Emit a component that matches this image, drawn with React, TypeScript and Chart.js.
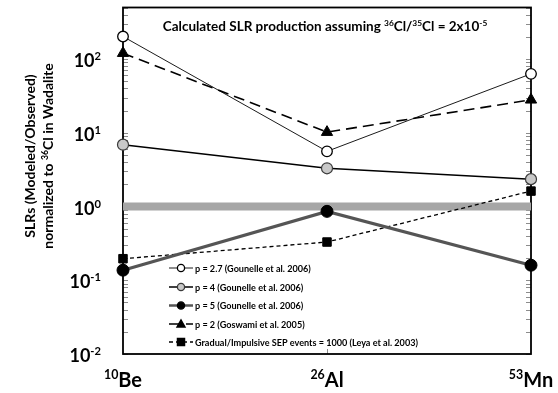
import React, { useEffect, useRef } from "react";
import { Chart, registerables } from "chart.js";
Chart.register(...registerables);

// ---- data ----
const categories = ["10Be", "26Al", "53Mn"];
const massNumbers = ["10", "26", "53"];
const elementSymbols = ["Be", "Al", "Mn"];
const p27 = [202, 5.6, 63];
const p4 = [6.9, 3.3, 2.35];
const p5 = [0.137, 0.86, 0.16];
const p2 = [120, 10.2, 28];
const sepEvents = [0.196, 0.33, 1.62];
const referenceLine = [1, 1, 1];
const yTickExponents = [-2, -1, 0, 1, 2];
const yMin = 0.01;
const yMax = 500;
const seriesLabels = [
  "p = 2.7 (Gounelle et al. 2006)",
  "p = 4 (Gounelle et al. 2006)",
  "p = 5 (Gounelle et al. 2006)",
  "p = 2 (Goswami et al. 2005)",
  "Gradual/Impulsive SEP events = 1000 (Leya et al. 2003)",
];

const FONT = "Lato, 'DejaVu Sans', sans-serif";

type Seg = { t: string; sup?: boolean };

function setFont(ctx: CanvasRenderingContext2D, size: number) {
  ctx.font = `bold ${size}px ${FONT}`;
}
function segWidth(ctx: CanvasRenderingContext2D, segs: Seg[], size: number) {
  let w = 0;
  for (const s of segs) {
    setFont(ctx, s.sup ? size * 0.62 : size);
    w += ctx.measureText(s.t).width;
  }
  return w;
}
function drawRich(
  ctx: CanvasRenderingContext2D,
  segs: Seg[],
  x: number,
  y: number,
  size: number,
  align: "left" | "center" | "right"
) {
  const w = segWidth(ctx, segs, size);
  let cx = align === "left" ? x : align === "center" ? x - w / 2 : x - w;
  ctx.textAlign = "left";
  ctx.textBaseline = "alphabetic";
  for (const s of segs) {
    const sz = s.sup ? size * 0.62 : size;
    setFont(ctx, sz);
    ctx.fillText(s.t, cx, s.sup ? y - size * 0.38 : y);
    cx += ctx.measureText(s.t).width;
  }
}

const decorPlugin = {
  id: "decor",
  beforeDatasetsDraw(chart: any) {
    const { ctx, chartArea: a, scales } = chart;
    const ys = scales.y;
    const xs = scales.x;
    ctx.save();
    ctx.strokeStyle = "#8c8c8c";
    ctx.lineWidth = 1;
    ctx.beginPath();
    for (const e of yTickExponents) {
      for (let m = 1; m <= 9; m++) {
        const v = m * Math.pow(10, e);
        if (v > yMax) continue;
        const py = Math.round(ys.getPixelForValue(v)) + 0.5;
        const len = 5;
        ctx.moveTo(a.left, py);
        ctx.lineTo(a.left + len, py);
        ctx.moveTo(a.right - len, py);
        ctx.lineTo(a.right, py);
      }
    }
    const mx = Math.round(xs.getPixelForValue(1)) + 0.5;
    ctx.moveTo(mx, a.bottom);
    ctx.lineTo(mx, a.bottom - 5);
    ctx.stroke();
    ctx.strokeStyle = "#000";
    ctx.lineWidth = 1.8;
    ctx.strokeRect(a.left, a.top, a.right - a.left, a.bottom - a.top);
    ctx.restore();
  },
  afterDraw(chart: any) {
    const { ctx, chartArea: a, scales } = chart;
    const ys = scales.y;
    const xs = scales.x;
    ctx.save();
    ctx.fillStyle = "#000";
    // x labels
    categories.forEach((_, i) => {
      const px = xs.getPixelForValue(i);
      drawRich(ctx, [{ t: massNumbers[i], sup: true }, { t: elementSymbols[i] }], px, 387, 20, "center");
    });
    // y labels
    for (const e of yTickExponents) {
      const py = ys.getPixelForValue(Math.pow(10, e));
      const ex = e < 0 ? "-" + Math.abs(e) : String(e);
      drawRich(ctx, [{ t: "10" }, { t: ex, sup: true }], 101, py + 8, 18, "right");
    }
    // title
    drawRich(
      ctx,
      [
        { t: "Calculated SLR production assuming " },
        { t: "36", sup: true },
        { t: "Cl/" },
        { t: "35", sup: true },
        { t: "Cl = 2x10" },
        { t: "-5", sup: true },
      ],
      (a.left + a.right) / 2 - 2,
      31,
      13.5,
      "center"
    );
    // y axis title
    const cy = 156;
    ctx.save();
    ctx.translate(35, cy);
    ctx.rotate(-Math.PI / 2);
    drawRich(ctx, [{ t: "SLRs (Modeled/Observed)" }], 0, 0, 14, "center");
    ctx.restore();
    ctx.save();
    ctx.translate(53, cy);
    ctx.rotate(-Math.PI / 2);
    drawRich(
      ctx,
      [{ t: "normalized to " }, { t: "36", sup: true }, { t: "Cl in Wadalite" }],
      0,
      0,
      14,
      "center"
    );
    ctx.restore();
    // legend
    const legendYs = [268, 287, 305.5, 324, 342];
    const ds = chart.data.datasets;
    for (let i = 0; i < seriesLabels.length; i++) {
      const d = ds[i];
      const ly = legendYs[i];
      ctx.save();
      ctx.strokeStyle = d.borderColor;
      ctx.lineWidth = Math.min(d.borderWidth, 2.5);
      ctx.setLineDash(d.borderDash || []);
      ctx.beginPath();
      ctx.moveTo(169, ly);
      ctx.lineTo(193, ly);
      ctx.stroke();
      ctx.setLineDash([]);
      ctx.fillStyle = d.pointBackgroundColor;
      ctx.strokeStyle = d.pointBorderColor;
      ctx.lineWidth = 1.3;
      const r = 3.6;
      const cx = 181;
      ctx.beginPath();
      if (d.pointStyle === "circle") {
        ctx.arc(cx, ly, r, 0, Math.PI * 2);
      } else if (d.pointStyle === "triangle") {
        ctx.moveTo(cx, ly - r - 0.5);
        ctx.lineTo(cx + r + 0.5, ly + r - 0.5);
        ctx.lineTo(cx - r - 0.5, ly + r - 0.5);
        ctx.closePath();
      } else {
        ctx.rect(cx - r, ly - r, 2 * r, 2 * r);
      }
      ctx.fill();
      ctx.stroke();
      ctx.restore();
      ctx.fillStyle = "#000";
      drawRich(ctx, [{ t: seriesLabels[i] }], 195, ly + 3.5, 9.1, "left");
    }
    ctx.restore();
  },
};

export default function App() {
  const ref = useRef<HTMLCanvasElement | null>(null);
  useEffect(() => {
    if (!ref.current) return;
    const chart = new Chart(ref.current, {
      type: "line",
      data: {
        labels: categories,
        datasets: [
          {
            label: seriesLabels[0],
            data: p27,
            borderColor: "#000",
            borderWidth: 0.9,
            pointStyle: "circle",
            pointRadius: 5.3,
            pointBackgroundColor: "#fff",
            pointBorderColor: "#000",
            pointBorderWidth: 1.3,
            clip: false,
            order: 1,
          } as any,
          {
            label: seriesLabels[1],
            data: p4,
            borderColor: "#000",
            borderWidth: 1.5,
            pointStyle: "circle",
            pointRadius: 5.5,
            pointBackgroundColor: "#c8c8c8",
            pointBorderColor: "#3a3a3a",
            pointBorderWidth: 1.2,
            clip: false,
            order: 2,
          },
          {
            label: seriesLabels[2],
            data: p5,
            borderColor: "#555555",
            borderWidth: 3.2,
            pointStyle: "circle",
            pointRadius: 6,
            pointBackgroundColor: "#000",
            pointBorderColor: "#000",
            pointBorderWidth: 1,
            clip: false,
            order: 3,
          },
          {
            label: seriesLabels[3],
            data: p2,
            borderColor: "#000",
            borderWidth: 1.6,
            borderDash: [11, 6],
            pointStyle: "triangle",
            pointRadius: 6.5,
            pointBackgroundColor: "#000",
            pointBorderColor: "#000",
            pointBorderWidth: 1,
            clip: false,
            order: 4,
          },
          {
            label: seriesLabels[4],
            data: sepEvents,
            borderColor: "#000",
            borderWidth: 1.3,
            borderDash: [4, 3],
            pointStyle: "rect",
            pointRadius: 6,
            pointBackgroundColor: "#000",
            pointBorderColor: "#000",
            pointBorderWidth: 1,
            clip: false,
            order: 5,
          },
          {
            label: "reference",
            data: referenceLine,
            borderColor: "#a6a6a6",
            borderWidth: 8,
            pointRadius: 0,
            borderCapStyle: "butt",
            clip: false,
            order: 10,
          },
        ],
      },
      options: {
        animation: false,
        responsive: true,
        maintainAspectRatio: false,
        layout: { padding: { left: 123, top: 5, right: 27, bottom: 39 } },
        plugins: { legend: { display: false }, tooltip: { enabled: false } },
        elements: { line: { tension: 0 } },
        scales: {
          x: { type: "category", offset: false, display: false },
          y: { type: "logarithmic", min: yMin, max: yMax, display: false },
        },
      },
      plugins: [decorPlugin],
    });
    return () => chart.destroy();
  }, []);
  return (
    <div style={{ position: "fixed", left: 0, top: 0, width: 558, height: 393, background: "#fff" }}>
      <canvas ref={ref} />
    </div>
  );
}
